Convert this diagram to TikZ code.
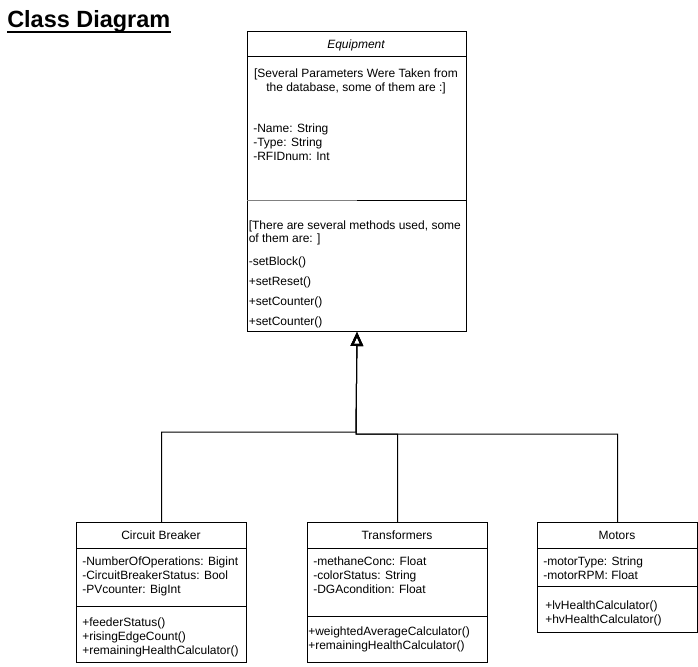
\documentclass[tikz,border=0pt]{standalone}
\usepackage{fontspec}
\setmainfont{Liberation Sans}
\usetikzlibrary{arrows.meta}

\begin{document}
\begin{tikzpicture}[x=0.75pt, y=-0.75pt,
  classbox/.style={draw, line width=0.75pt, inner sep=0, anchor=north west},
  part/.style={line width=0.75pt},
  txt/.style={inner sep=0, anchor=base west, font=\fontsize{9}{10.8}\selectfont},
  ctxt/.style={inner sep=0, anchor=base, font=\fontsize{9}{10.8}\selectfont},
  inherit/.style={line width=0.75pt, -{Triangle[open, length=10.5pt, width=9.2pt, line width=1.6pt]}}
]
\useasboundingbox (0,0) rectangle (698,666);

% title
\node[inner sep=0, anchor=base west, font=\fontsize{17.6}{20}\selectfont\bfseries] (title) at (7,27.5) {Class Diagram};
\draw[line width=1.5pt] ([yshift=-3.6pt]title.base west) -- ([yshift=-3.6pt]title.base east);

% ---------- Equipment ----------
\node[classbox, minimum width=164.25pt, minimum height=225pt] (equip) at (247,31) {};
\draw[part] (247,57) -- (466,57);
\draw[line width=1.1pt, black!50] (247,200.3) -- (357,200.3);
\draw[part] (357,201) -- (466,201);
\node[ctxt, font=\fontsize{9}{10.8}\selectfont\itshape] (eqname) at (356,49) {Equipment};
\node[ctxt] (eqnote1) at (356,78) {[Several Parameters Were Taken from};
\node[ctxt] (eqnote2) at (356,92) {the database, some of them are :]};
\node[txt] (eqa1) at (253,133) {-Name: String};
\node[txt] (eqa2) at (253,147) {-Type: String};
\node[txt] (eqa3) at (253,161) {-RFIDnum: Int};
\node[txt] (eqnote3) at (248.5,229) {[There are several methods used, some};
\node[txt] (eqnote4) at (248.5,243) {of them are: ]};
\node[txt] (eqm1) at (248.5,265) {-setBlock()};
\node[txt] (eqm2) at (248.5,285) {+setReset()};
\node[txt] (eqm3) at (248.5,305) {+setCounter()};
\node[txt] (eqm4) at (248.5,325) {+setCounter()};

% ---------- Circuit Breaker ----------
\node[classbox, minimum width=127.5pt, minimum height=105pt] (cb) at (76,522) {};
\draw[part] (76,548) -- (246,548);
\draw[part] (76,606) -- (246,606);
\node[ctxt] (cbname) at (161,539) {Circuit Breaker};
\node[txt] (cba1) at (82,565) {-NumberOfOperations: Bigint};
\node[txt] (cba2) at (82,579) {-CircuitBreakerStatus: Bool};
\node[txt] (cba3) at (82,593) {-PVcounter: BigInt};
\node[txt] (cbm1) at (82,626) {+feederStatus()};
\node[txt] (cbm2) at (82,640) {+risingEdgeCount()};
\node[txt] (cbm3) at (82,654) {+remainingHealthCalculator()};

% ---------- Transformers ----------
\node[classbox, minimum width=135pt, minimum height=105pt] (tr) at (307,522) {};
\draw[part] (307,548) -- (487,548);
\draw[part] (307,616) -- (487,616);
\node[ctxt] (trname) at (397,539) {Transformers};
\node[txt] (tra1) at (313,565) {-methaneConc: Float};
\node[txt] (tra2) at (313,579) {-colorStatus: String};
\node[txt] (tra3) at (313,593) {-DGAcondition: Float};
\node[txt] (trm1) at (308,635) {+weightedAverageCalculator()};
\node[txt] (trm2) at (308,649) {+remainingHealthCalculator()};

% ---------- Motors ----------
\node[classbox, minimum width=120pt, minimum height=82.5pt] (mo) at (537,522) {};
\draw[part] (537,548) -- (697,548);
\draw[part] (537,586) -- (697,586);
\node[ctxt] (moname) at (617,539) {Motors};
\node[txt] (moa1) at (543,565) {-motorType: String};
\node[txt] (moa2) at (543,579) {-motorRPM: Float};
\node[txt] (mom1) at (545,609) {+lvHealthCalculator()};
\node[txt] (mom2) at (545,623) {+hvHealthCalculator()};

% ---------- generalisation ----------
\coordinate (jl) at (356,432);
\coordinate (jr) at (356,434);
\draw[inherit] (cb.north) |- (jl) -- (equip.south);
\draw[inherit] (tr.north) |- (jr) -- (equip.south);
\draw[inherit] (mo.north) |- (jr) -- (equip.south);
\end{tikzpicture}
\end{document}
